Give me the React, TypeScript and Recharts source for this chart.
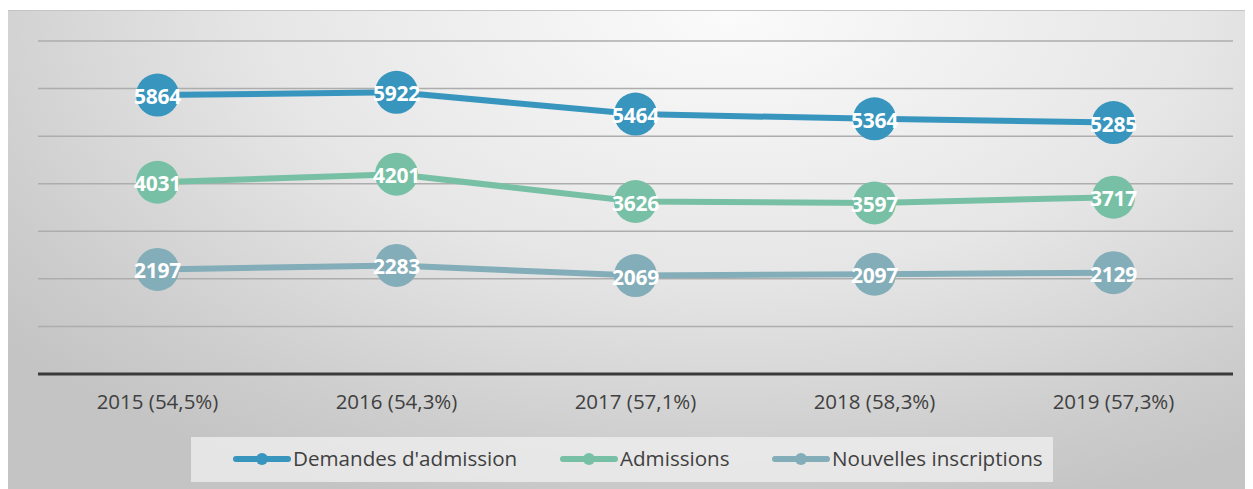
import React from "react";
import { LineChart, Line, XAxis, YAxis, CartesianGrid, LabelList } from "recharts";

const categories = ["2015 (54,5%)", "2016 (54,3%)", "2017 (57,1%)", "2018 (58,3%)", "2019 (57,3%)"];
const demandes = [5864, 5922, 5464, 5364, 5285];
const admissions = [4031, 4201, 3626, 3597, 3717];
const inscriptions = [2197, 2283, 2069, 2097, 2129];
const yTicks = [0, 1000, 2000, 3000, 4000, 5000, 6000, 7000];

const series = [
  { key: "demandes", name: "Demandes d'admission", color: "#3795be" },
  { key: "admissions", name: "Admissions", color: "#77c0a5" },
  { key: "inscriptions", name: "Nouvelles inscriptions", color: "#83adb8" },
];

const data = categories.map((c, i) => ({
  cat: c,
  demandes: demandes[i],
  admissions: admissions[i],
  inscriptions: inscriptions[i],
}));

const FONT = "'Open Sans', Lato, sans-serif";

const makeDot = (color: string) => (props: any) => {
  const { cx, cy, index } = props;
  if (cx == null || cy == null) return <g key={index} />;
  return <circle key={index} cx={cx} cy={cy} r={21.5} fill={color} />;
};

const ValueLabel = (props: any) => {
  const { x, y, value } = props;
  return (
    <text
      x={x}
      y={y}
      dy={9}
      textAnchor="middle"
      fill="#ffffff"
      fontFamily={FONT}
      fontWeight={700}
      fontSize={21}
      letterSpacing={-0.2}
    >
      {value}
    </text>
  );
};

const CatTick = (props: any) => {
  const { x, y, payload } = props;
  return (
    <text
      x={x}
      y={y}
      dy={27}
      textAnchor="middle"
      fill="#404040"
      fontFamily={FONT}
      fontSize={20.5}
    >
      {payload.value}
    </text>
  );
};

const legendLefts = [42, 369, 581];

const LegendBox = () => (
  <div
    style={{
      position: "absolute",
      left: 183,
      top: 426,
      width: 862,
      height: 45,
      background: "rgba(240,240,240,0.75)",
      fontFamily: FONT,
      fontSize: 20.6,
      color: "#404040",
    }}
  >
    {series.map((s, i) => (
      <div
        key={s.key}
        style={{
          position: "absolute",
          left: legendLefts[i],
          top: -2,
          height: 45,
          display: "flex",
          alignItems: "center",
          whiteSpace: "nowrap",
        }}
      >
        <svg width={58} height={14} style={{ marginRight: 2, marginTop: 2 }}>
          <line x1={3} y1={7} x2={55} y2={7} stroke={s.color} strokeWidth={6} strokeLinecap="round" />
          <circle cx={29} cy={7} r={6} fill={s.color} />
        </svg>
        <span>{s.name}</span>
      </div>
    ))}
  </div>
);

export default function App() {
  return (
    <div style={{ position: "relative", width: 1245, height: 481 }}>
      <div
        style={{
          position: "absolute",
          left: 0,
          top: 2,
          width: 1245,
          height: 479,
          borderTop: "1px solid #c4c4c4",
          boxSizing: "border-box",
          background:
            "radial-gradient(ellipse 75% 110% at 58% 0%, #fbfbfb 0%, #e6e6e6 50%, #cdcdcd 85%, #c4c4c4 100%)",
        }}
      >
        <LineChart
          width={1245}
          height={479}
          data={data}
          margin={{ top: 30, right: 20, bottom: 106, left: 30 }}
        >
          <CartesianGrid horizontal vertical={false} stroke="#adadad" strokeWidth={1.5} />
          <XAxis
            dataKey="cat"
            padding={{ left: 119.5, right: 119.5 }}
            axisLine={{ stroke: "#3a3a3a", strokeWidth: 3 }}
            tickLine={false}
            tick={<CatTick />}
            height={10}
            interval={0}
          />
          <YAxis
            domain={[0, 7000]}
            ticks={yTicks}
            interval={0}
            width={0}
            tick={{ fill: "transparent", fontSize: 1 }}
            axisLine={false}
            tickLine={false}
          />
          {series.map((s) => (
            <Line
              key={s.key}
              dataKey={s.key}
              name={s.name}
              stroke={s.color}
              strokeWidth={6}
              dot={makeDot(s.color)}
              activeDot={false}
              isAnimationActive={false}
            >
              <LabelList dataKey={s.key} content={<ValueLabel />} />
            </Line>
          ))}
        </LineChart>
        <LegendBox />
      </div>
    </div>
  );
}
